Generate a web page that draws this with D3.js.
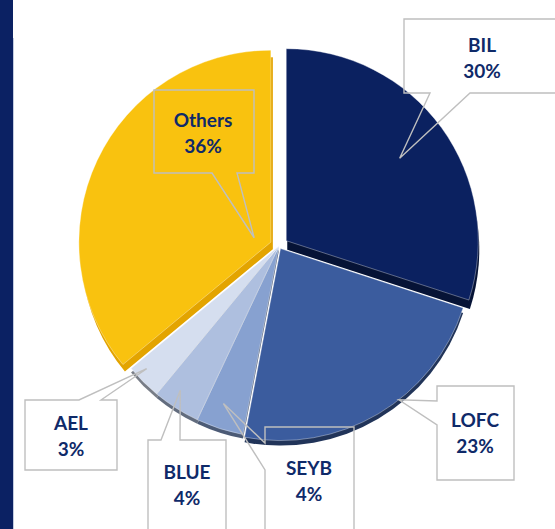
<!DOCTYPE html>
<html>
<head>
<meta charset="utf-8">
<script src="https://cdn.jsdelivr.net/npm/d3@7"></script>
<style>
  html, body { margin: 0; padding: 0; background: #fff; }
  svg { display: block; }
</style>
</head>
<body>
<div id="chart"></div>
<script>
// slice data
const labels = ["BIL", "LOFC", "SEYB", "BLUE", "AEL", "Others"];
const shares = [30, 23, 4, 4, 3, 36];
const colors = ["#0b2160", "#3b5c9e", "#87a1d0", "#aebfdf", "#d5deef", "#f9c20f"];

// layout: how far each slice is pulled out and how thick its side looks
const explode = [9, 3, 0, 0, 0, 9];
const sideDx = [1, 0, 0, 0, 0, 2];
const sideDy = [9, 5, 4, 4, 4, 7];

// callout boxes (box, side with pointer, pointer gap on that side, tip inside slice)
// tip = [fraction of slice angle, fraction of radius]
const callouts = [
  { box: [404, 19, 170, 74], side: "bottom", gap: [430, 470], tip: [0.5, 0.73] },
  { box: [437, 386, 77, 94], side: "left", gap: [401, 425], tip: [0.41, 1.0] },
  { box: [265, 427, 89, 130], side: "left", gap: [443, 470], tip: [0.6, 0.87] },
  { box: [148, 440, 78, 120], side: "top", gap: [161, 180], tip: [0.64, 0.91] },
  { box: [25, 400, 92, 70], side: "top", gap: [79, 101], tip: [0.7, 0.94] },
  { box: [154, 90, 100, 83], side: "bottom", gap: [212, 237], tip: [0.42, 0.09] }
];
const labelCenters = [[482, 52], [475, 427], [309, 475], [187, 479], [71, 430], [203, 127]];

const width = 555, height = 529;
const cx = 279, cy = 246, radius = 192;

const svg = d3.select("#chart").append("svg")
  .attr("width", width)
  .attr("height", height);

// navy strip on the left
svg.append("rect").attr("x", 0).attr("y", 0).attr("width", 13).attr("height", height).attr("fill", "#0b2163");
svg.append("line").attr("x1", 13.5).attr("x2", 13.5).attr("y1", 38).attr("y2", height)
  .attr("stroke", "#c3cce0").attr("stroke-width", 1);

const pie = d3.pie().sort(null).value(d => d)(shares);
const arc = d3.arc().innerRadius(0).outerRadius(radius);

const offset = (d, i) => {
  const a = (d.startAngle + d.endAngle) / 2;
  return [cx + explode[i] * Math.sin(a), cy - explode[i] * Math.cos(a)];
};

const g = svg.append("g");

// side / shadow layer
g.selectAll("path.side")
  .data(pie)
  .join("path")
  .attr("class", "side")
  .attr("d", arc)
  .attr("transform", (d, i) => {
    const [x, y] = offset(d, i);
    return `translate(${x + sideDx[i]},${y + sideDy[i]})`;
  })
  .attr("fill", (d, i) => i === 5 ? "#e3a400" : d3.color(colors[i]).darker(1.6));

// faces
g.selectAll("path.face")
  .data(pie)
  .join("path")
  .attr("class", "face")
  .attr("d", arc)
  .attr("transform", (d, i) => {
    const [x, y] = offset(d, i);
    return `translate(${x},${y})`;
  })
  .attr("fill", (d, i) => colors[i])
  .attr("stroke", "#ffffff")
  .attr("stroke-opacity", 0.35)
  .attr("stroke-width", 1);

// callouts
const calloutPath = (c, tip) => {
  const [x, y, w, h] = c.box;
  const [a, b] = c.gap;
  const pts = [[x, y]];
  if (c.side === "top") pts.push([a, y], tip, [b, y]);
  pts.push([x + w, y], [x + w, y + h]);
  if (c.side === "bottom") pts.push([b, y + h], tip, [a, y + h]);
  pts.push([x, y + h]);
  if (c.side === "left") pts.push([x, b], tip, [x, a]);
  return d3.line()(pts) + "Z";
};

pie.forEach((d, i) => {
  const c = callouts[i];
  const [ox, oy] = offset(d, i);
  const ang = d.startAngle + c.tip[0] * (d.endAngle - d.startAngle);
  const r = c.tip[1] * radius;
  const tip = [ox + r * Math.sin(ang), oy - r * Math.cos(ang)];

  svg.append("path")
    .attr("d", calloutPath(c, tip))
    .attr("fill", "none")
    .attr("stroke", "#bfbfbf")
    .attr("stroke-width", 1.4);

  const [tx, ty] = labelCenters[i];
  const t = svg.append("text")
    .attr("x", tx)
    .attr("y", ty)
    .attr("text-anchor", "middle")
    .attr("fill", "#0f2a69")
    .style("font-family", "Lato, 'Open Sans', sans-serif")
    .style("font-weight", "bold")
    .style("font-size", "19px");
  t.append("tspan").attr("x", tx).text(labels[i]);
  t.append("tspan").attr("x", tx).attr("dy", 26).text(shares[i] + "%");
});
</script>
</body>
</html>
